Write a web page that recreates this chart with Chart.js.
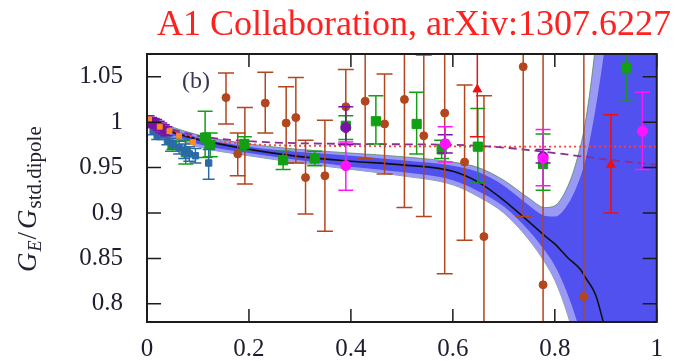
<!DOCTYPE html>
<html>
<head>
<meta charset="utf-8">
<script src="https://cdn.jsdelivr.net/npm/chart.js@4.4.0/dist/chart.umd.min.js"></script>
<style>
  html, body { margin: 0; padding: 0; background: #fff; }
  #wrap { width: 675px; height: 361px; }
</style>
</head>
<body>
<div id="wrap"><canvas id="c"></canvas></div>
<script>
'use strict';

// axis ticks
const xTicks = [0, 0.2, 0.4, 0.6, 0.8, 1];
const xTickLabels = ['0', '0.2', '0.4', '0.6', '0.8', '1'];
const yTicks = [0.8, 0.85, 0.9, 0.95, 1, 1.05];
const yTickLabels = ['0.8', '0.85', '0.9', '0.95', '1', '1.05'];

// fit band (outer = light, inner = dark) and central fit curve
const bandX   = [0, 0.1, 0.2, 0.3, 0.4, 0.5, 0.6, 0.65, 0.7, 0.75, 0.78, 0.8, 0.82, 0.84, 0.86, 0.88, 0.9, 0.95, 1.0];
const outerUp = [1.004, 0.986, 0.976, 0.970, 0.966, 0.962, 0.956, 0.950, 0.936, 0.916, 0.906, 0.908, 0.923, 0.952, 1.0, 1.085, 1.2, 1.4, 1.6];
const innerUp = [1.002, 0.983, 0.973, 0.967, 0.963, 0.958, 0.952, 0.945, 0.930, 0.908, 0.897, 0.896, 0.905, 0.925, 0.958, 1.015, 1.09, 1.3, 1.5];
const innerLo = [0.997, 0.976, 0.966, 0.958, 0.951, 0.945, 0.936, 0.924, 0.907, 0.880, 0.859, 0.842, 0.818, 0.787, 0.75, 0.70, 0.66, 0.55, 0.45];
const outerLo = [0.995, 0.973, 0.963, 0.955, 0.948, 0.941, 0.931, 0.918, 0.900, 0.870, 0.846, 0.826, 0.797, 0.760, 0.72, 0.67, 0.62, 0.5, 0.4];

const fitX = [0, 0.05, 0.1, 0.2, 0.3, 0.4, 0.5, 0.6, 0.65, 0.7, 0.75, 0.78, 0.8, 0.825, 0.85, 0.86, 0.88, 0.895, 0.92];
const fitY = [1.0, 0.989, 0.981, 0.970, 0.962, 0.957, 0.953, 0.946, 0.934, 0.914, 0.890, 0.875, 0.866, 0.851, 0.838, 0.829, 0.81, 0.78, 0.72];

const dotX = [0, 0.1, 0.2, 0.3, 1.0];
const dotY = [1.0, 0.982, 0.976, 0.974, 0.973];
const dashX = [0, 0.1, 0.2, 0.4, 0.6, 0.7, 0.8, 0.9, 1.0];
const dashY = [1.0, 0.985, 0.979, 0.976, 0.975, 0.972, 0.966, 0.959, 0.953];

// data points with error bars
const brownX  = [0.155, 0.178, 0.192, 0.232, 0.273, 0.292, 0.311, 0.349, 0.39, 0.428, 0.466, 0.505, 0.543, 0.584, 0.623, 0.661, 0.738, 0.777, 0.857];
const brownY  = [1.027, 0.965, 0.974, 1.021, 0.999, 1.005, 0.939, 0.941, 1.017, 1.023, 0.998, 1.025, 0.985, 1.010, 0.956, 0.874, 1.061, 0.821, 0.808];
const brownLo = [0.998, 0.941, 0.932, 0.988, 0.955, 0.955, 0.899, 0.880, 0.976, 0.960, 0.943, 0.906, 0.896, 0.833, 0.870, 0.60, 0.896, 0.50, 0.50];
const brownHi = [1.054, 0.988, 1.016, 1.055, 1.039, 1.049, 0.980, 1.002, 1.058, 1.10, 1.053, 1.20, 1.074, 1.20, 1.041, 1.029, 1.30, 1.20, 1.20];

const greenX  = [0.05, 0.076, 0.114, 0.124, 0.191, 0.267, 0.329, 0.39, 0.449, 0.529, 0.578, 0.649, 0.777, 0.94];
const greenY  = [0.975, 0.967, 0.983, 0.975, 0.976, 0.958, 0.960, 0.996, 1.001, 0.998, 0.970, 0.973, 0.954, 1.060];
const greenLo = [0.968, 0.954, 0.961, 0.962, 0.968, 0.948, 0.952, 0.981, 0.976, 0.965, 0.960, 0.933, 0.925, 1.023];
const greenHi = [0.982, 0.980, 1.012, 0.988, 0.984, 0.968, 0.968, 1.007, 1.029, 1.033, 0.980, 1.015, 0.987, 1.075];

const magX  = [0.39, 0.585, 0.777, 0.972];
const magY  = [0.952, 0.976, 0.960, 0.990];
const magLo = [0.925, 0.956, 0.930, 0.948];
const magHi = [0.978, 0.995, 0.992, 1.033];

const purpleX  = [0.39, 0.585, 0.777];
const purpleY  = [0.994, 0.976, 0.962];
const purpleLo = [0.975, 0.966, 0.955];
const purpleHi = [1.017, 0.986, 0.970];

const purpleLowX  = [0.003, 0.008, 0.013, 0.018, 0.023, 0.028, 0.033, 0.038];
const purpleLowY  = [1.002, 1.000, 0.999, 0.998, 0.996, 0.994, 0.992, 0.990];
const purpleLowLo = [0.997, 0.995, 0.994, 0.993, 0.991, 0.989, 0.987, 0.985];
const purpleLowHi = [1.007, 1.005, 1.004, 1.003, 1.001, 0.999, 0.997, 0.995];

const redX  = [0.648, 0.91];
const redY  = [1.036, 0.953];
const redLo = [0.984, 0.900];
const redHi = [1.20, 1.008];

const blueX  = [0.012, 0.02, 0.03, 0.04, 0.05, 0.063, 0.073, 0.083, 0.095, 0.121];
const blueY  = [0.990, 0.985, 0.986, 0.980, 0.976, 0.972, 0.968, 0.965, 0.963, 0.955];
const blueLo = [0.986, 0.981, 0.981, 0.975, 0.970, 0.965, 0.960, 0.957, 0.955, 0.937];
const blueHi = [0.994, 0.989, 0.991, 0.985, 0.982, 0.979, 0.976, 0.973, 0.971, 0.970];

const orangeX = [0.004, 0.025, 0.044, 0.063, 0.09];
const orangeY = [1.003, 0.995, 0.990, 0.985, 0.978];

function pts(xs, ys) {
  return xs.map((x, i) => ({ x: x, y: ys[i] }));
}

function band(data, color, border, fill, order) {
  return {
    type: 'line', data: data, order: order,
    borderColor: border, borderWidth: border ? 1 : 0,
    backgroundColor: color, fill: fill,
    pointRadius: 0, cubicInterpolationMode: 'monotone'
  };
}

function series(xs, ys, lo, hi, color, style, r, cap, order) {
  return {
    type: 'line', showLine: false, order: order,
    data: pts(xs, ys), errLo: lo, errHi: hi, capW: cap,
    borderColor: color, backgroundColor: color,
    pointStyle: style, pointRadius: r, pointBorderWidth: 1
  };
}

// draws vertical error bars under each dataset's markers
const errorBars = {
  id: 'errorBars',
  beforeDatasetDraw(chart, args) {
    const ds = chart.data.datasets[args.index];
    if (!ds.errLo) return;
    const ctx = chart.ctx, a = chart.chartArea;
    const xs = chart.scales.x, ys = chart.scales.y;
    ctx.save();
    ctx.beginPath();
    ctx.rect(a.left, a.top, a.right - a.left, a.bottom - a.top);
    ctx.clip();
    ctx.strokeStyle = ds.borderColor;
    ctx.lineWidth = 1.5;
    ds.data.forEach((p, i) => {
      const px = xs.getPixelForValue(p.x);
      const lo = ys.getPixelForValue(ds.errLo[i]);
      const hi = ys.getPixelForValue(ds.errHi[i]);
      ctx.beginPath();
      ctx.moveTo(px, lo); ctx.lineTo(px, hi);
      ctx.moveTo(px - ds.capW, lo); ctx.lineTo(px + ds.capW, lo);
      ctx.moveTo(px - ds.capW, hi); ctx.lineTo(px + ds.capW, hi);
      ctx.stroke();
    });
    ctx.restore();
  }
};

// frame, inward ticks, title, panel label and y-axis label
const decor = {
  id: 'decor',
  afterDatasetsDraw(chart) {
    const ctx = chart.ctx, a = chart.chartArea;
    const xs = chart.scales.x, ys = chart.scales.y;
    ctx.save();
    ctx.strokeStyle = '#1c1c1c';
    ctx.lineWidth = 1.5;
    ctx.beginPath();
    xTicks.forEach(v => {
      const px = xs.getPixelForValue(v);
      ctx.moveTo(px, a.bottom); ctx.lineTo(px, a.bottom - 13);
      ctx.moveTo(px, a.top); ctx.lineTo(px, a.top + 13);
    });
    yTicks.forEach(v => {
      const py = ys.getPixelForValue(v);
      ctx.moveTo(a.left, py); ctx.lineTo(a.left + 14, py);
      ctx.moveTo(a.right, py); ctx.lineTo(a.right - 14, py);
    });
    ctx.stroke();
    ctx.lineWidth = 2;
    ctx.strokeRect(a.left, a.top, a.right - a.left, a.bottom - a.top);

    ctx.fillStyle = '#3b3550';
    ctx.font = '24px "Liberation Serif"';
    ctx.textBaseline = 'alphabetic';
    ctx.fillText('(b)', 182, 88);

    ctx.fillStyle = '#ff2020';
    ctx.font = '36px "Liberation Serif"';
    ctx.textAlign = 'right';
    ctx.fillText('A1 Collaboration, arXiv:1307.6227', 671, 35);

    // G_E / G_std.dipole, rotated
    ctx.textAlign = 'left';
    ctx.fillStyle = '#222233';
    ctx.translate(36, 272);
    ctx.rotate(-Math.PI / 2);
    const parts = [
      ['G', 'italic 27px "Liberation Serif"', 0],
      ['E', 'italic 18px "Liberation Serif"', 5],
      ['/', '27px "Liberation Serif"', 0],
      ['G', 'italic 27px "Liberation Serif"', 0],
      ['std.dipole', '21px "Liberation Serif"', 5]
    ];
    let pos = 0;
    parts.forEach(p => {
      ctx.font = p[1];
      ctx.fillText(p[0], pos, p[2]);
      pos += ctx.measureText(p[0]).width + (p[0] === '/' ? 3 : 1);
    });
    ctx.restore();
  }
};

const tickFont = { family: '"Liberation Serif"', size: 25 };

new Chart(document.getElementById('c'), {
  type: 'line',
  data: {
    datasets: [
      band(pts(bandX, outerUp), '#9a9af6', 'rgba(70,130,70,0.7)', '+1', 20),
      band(pts(bandX, outerLo), '#9a9af6', 'rgba(70,130,70,0.7)', false, 20),
      band(pts(bandX, innerUp), '#5151ef', null, '+1', 15),
      band(pts(bandX, innerLo), '#5151ef', null, false, 15),
      { type: 'line', data: pts(fitX, fitY), order: 12, borderColor: '#111', borderWidth: 1.6,
        pointRadius: 0, fill: false, cubicInterpolationMode: 'monotone' },
      { type: 'line', data: pts(dotX, dotY), order: 11, borderColor: '#ff4040', borderWidth: 1.8,
        borderDash: [2, 3], pointRadius: 0, fill: false, cubicInterpolationMode: 'monotone' },
      { type: 'line', data: pts(dashX, dashY), order: 10, borderColor: '#8a2e92', borderWidth: 1.8,
        borderDash: [8, 5], pointRadius: 0, fill: false, cubicInterpolationMode: 'monotone' },
      series(brownX, brownY, brownLo, brownHi, '#b3461c', 'circle', 4, 8, 9),
      series(greenX, greenY, greenLo, greenHi, '#12a012', 'rect', 6.5, 7.5, 8),
      series(purpleX, purpleY, purpleLo, purpleHi, '#7a12a6', 'circle', 5, 7.5, 7),
      series(magX, magY, magLo, magHi, '#ff14ff', 'circle', 5, 7.5, 6),
      series(redX, redY, redLo, redHi, '#ee1010', 'triangle', 5, 7.5, 5),
      series(blueX, blueY, blueLo, blueHi, '#2b6aa8', 'rect', 4.5, 6, 4),
      series(purpleLowX, purpleLowY, purpleLowLo, purpleLowHi, '#7a12a6', 'rect', 4.5, 6, 3),
      { type: 'line', showLine: false, order: 2, data: pts(orangeX, orangeY),
        borderColor: '#ff8a1e', backgroundColor: '#ff8a1e', pointStyle: 'rect', pointRadius: 3.5 }
    ]
  },
  options: {
    responsive: true,
    maintainAspectRatio: false,
    animation: false,
    devicePixelRatio: 1,
    layout: { padding: { top: 54, right: 7, left: 0, bottom: 0 } },
    plugins: { legend: { display: false }, tooltip: { enabled: false }, title: { display: false } },
    scales: {
      x: {
        type: 'linear', min: 0, max: 1,
        grid: { display: false, drawTicks: false },
        border: { display: false },
        afterBuildTicks: s => { s.ticks = xTicks.map(v => ({ value: v })); },
        afterFit: s => { s.height = 36; },
        ticks: {
          font: tickFont, color: '#1d1d30', padding: 12, maxRotation: 0,
          callback: (v, i) => xTickLabels[i]
        }
      },
      y: {
        type: 'linear', min: 0.78, max: 1.075,
        grid: { display: false, drawTicks: false },
        border: { display: false },
        afterBuildTicks: s => { s.ticks = yTicks.map(v => ({ value: v })); },
        afterFit: s => { s.width = 147; },
        ticks: {
          font: tickFont, color: '#1d1d30', padding: 24,
          callback: (v, i) => yTickLabels[i]
        }
      }
    }
  },
  plugins: [errorBars, decor]
});
</script>
</body>
</html>
